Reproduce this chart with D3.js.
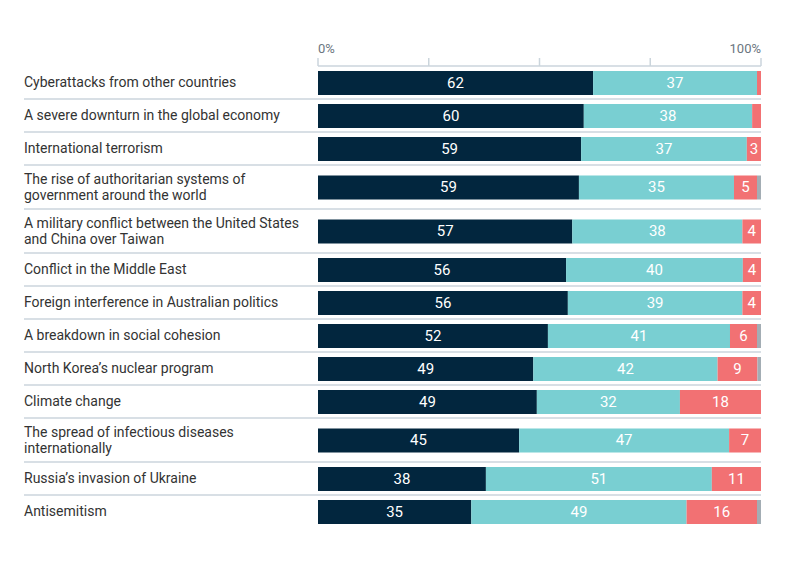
<!DOCTYPE html>
<html lang="en">
<head>
<meta charset="UTF-8"/>
<title>Threats chart</title>
<script src="https://d3js.org/d3.v7.min.js"></script>
<style>
  body { margin: 0; background: #fff; }
  svg text { font-family: Roboto, "Noto Sans", sans-serif; }
</style>
</head>
<body>
<script>
// categories, "|" marks the line break
var categories = [
  "Cyberattacks from other countries",
  "A severe downturn in the global economy",
  "International terrorism",
  "The rise of authoritarian systems of|government around the world",
  "A military conflict between the United States|and China over Taiwan",
  "Conflict in the Middle East",
  "Foreign interference in Australian politics",
  "A breakdown in social cohesion",
  "North Korea\u2019s nuclear program",
  "Climate change",
  "The spread of infectious diseases|internationally",
  "Russia\u2019s invasion of Ukraine",
  "Antisemitism"
];
var critical  = [62.1, 60.0, 59.4, 58.9, 57.4, 56.0, 56.4, 51.9, 48.6, 49.4, 45.4, 37.9, 34.6];
var important = [37.0, 38.0, 37.4, 35.0, 38.4, 39.9, 39.4, 41.1, 41.6, 32.3, 47.4, 51.0, 48.6];
var notImp    = [0.9, 2.0, 3.2, 5.2, 4.2, 4.1, 4.2, 6.1, 9.0, 18.3, 7.2, 11.1, 15.9];
var dontKnow  = [0, 0, 0, 0.9, 0, 0, 0, 0.9, 0.8, 0, 0, 0, 0.9];
var tickValues = [0, 25, 50, 75, 100];

var keys = ["critical", "important", "notImp", "dontKnow"];
var colors = ["#02263e", "#79cfd2", "#f27173", "#a3adb4"];

var data = categories.map(function(c, i){
  return { cat: c, critical: critical[i], important: important[i], notImp: notImp[i], dontKnow: dontKnow[i] };
});

var w = 785, h = 573;
var svg = d3.select("body").append("svg").attr("width", w).attr("height", h);

var xScale = d3.scaleLinear().domain([0, 100]).range([318, 761]);

// row layout: one-line rows 33px, two-line rows 44px
var top0 = 66;
var rows = [];
var y = top0;
data.forEach(function(d){
  var lines = d.cat.split("|");
  var rh = lines.length > 1 ? 44 : 33;
  rows.push({ top: y, h: rh, lines: lines });
  y += rh;
});

// axis
var axisG = svg.append("g");
axisG.append("line")
  .attr("x1", xScale(0)).attr("x2", xScale(100))
  .attr("y1", top0).attr("y2", top0)
  .attr("stroke", "#cbd5dc").attr("stroke-width", 1.5);
axisG.selectAll(".tick").data(tickValues).enter().append("line")
  .attr("x1", function(d){ return xScale(d); })
  .attr("x2", function(d){ return xScale(d); })
  .attr("y1", 58).attr("y2", top0)
  .attr("stroke", "#cbd5dc").attr("stroke-width", 1.5);
axisG.selectAll(".tl").data([0, 100]).enter().append("text")
  .attr("x", function(d){ return xScale(d); })
  .attr("y", 53)
  .attr("text-anchor", function(d){ return d === 0 ? "start" : "end"; })
  .attr("fill", "#6b7680")
  .style("font-size", "13px")
  .text(function(d){ return d + "%"; });

// separators
svg.selectAll(".sep").data(rows.slice(0, rows.length - 1)).enter().append("line")
  .attr("x1", 24).attr("x2", 761)
  .attr("y1", function(r){ return r.top + r.h; })
  .attr("y2", function(r){ return r.top + r.h; })
  .attr("stroke", "#cbd5dc").attr("stroke-width", 1.5);

// category labels
var labG = svg.selectAll(".lab").data(rows).enter().append("text")
  .attr("fill", "#333333")
  .style("font-size", "14px");
labG.each(function(r){
  var t = d3.select(this);
  var n = r.lines.length;
  var cy = r.top + r.h / 2;
  r.lines.forEach(function(l, k){
    t.append("tspan")
      .attr("x", 24)
      .attr("y", cy + (k - (n - 1) / 2) * 16)
      .attr("dy", "0.35em")
      .text(l);
  });
});

// stacked bars
var series = d3.stack().keys(keys)(data);
var barH = 24;

var groups = svg.selectAll(".series").data(series).enter().append("g")
  .attr("fill", function(d, i){ return colors[i]; });

groups.selectAll("rect")
  .data(function(d){ return d; })
  .enter().append("rect")
  .attr("x", function(d){ return xScale(d[0]); })
  .attr("y", function(d, i){ return rows[i].top + rows[i].h / 2 + 0.5 - barH / 2; })
  .attr("width", function(d){ return Math.max(0, xScale(d[1]) - xScale(d[0])); })
  .attr("height", barH);

groups.filter(function(d, i){ return i < 3; })
  .selectAll("text")
  .data(function(d){ return d.filter(function(s){ return s[1] - s[0] >= 2.5; }); })
  .enter().append("text")
  .attr("x", function(d){ return (xScale(d[0]) + xScale(d[1])) / 2; })
  .attr("y", function(d){
    var i = data.indexOf(d.data);
    return rows[i].top + rows[i].h / 2;
  })
  .attr("dy", "0.35em")
  .attr("text-anchor", "middle")
  .attr("fill", "#ffffff")
  .style("font-size", "15px")
  .text(function(d){ return Math.round(d[1] - d[0]); });
</script>
</body>
</html>
